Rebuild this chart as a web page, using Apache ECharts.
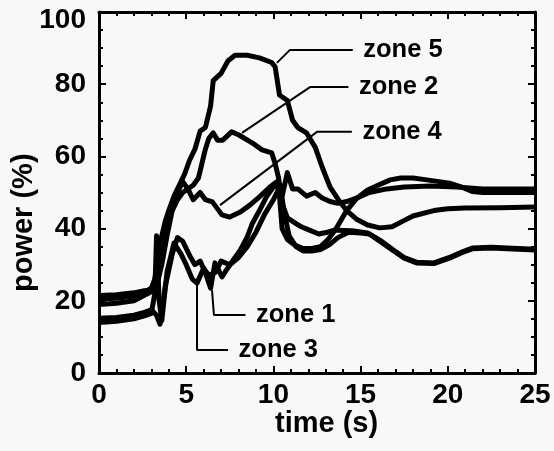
<!DOCTYPE html>
<html>
<head>
<meta charset="utf-8">
<script src="https://cdn.jsdelivr.net/npm/echarts@6/dist/echarts.min.js"></script>
<style>
  html, body { margin: 0; padding: 0; background: #f8f8f8; }
  #chart { width: 554px; height: 451px; }
</style>
</head>
<body>
<div id="chart"></div>
<script>
// Zone power traces, [time (s), power (%)]
const zone1 = [[0,15.2],[1,15.4],[2,16],[2.6,16.8],[3.0,17.5],[3.3,16],[3.5,13.5],[3.8,24],[4.2,33],[4.5,37.5],[4.8,36.5],[5.2,32.5],[5.5,30],[5.8,31],[6.1,27.7],[6.4,23.5],[6.65,30.5],[7.05,26.6],[7.3,28.5],[7.7,31.3],[8.1,34],[8.5,37.7],[8.8,41.5],[9.2,45],[9.6,48.8],[10,51.5],[10.3,52],[10.5,40],[10.8,37],[11.2,35.5],[11.7,34.5],[12.2,34.5],[12.7,35],[13.1,36.8],[13.6,40],[14.2,45],[14.8,48.5],[15.4,50.7],[16,52],[16.7,53.5],[17.3,54],[18,54],[18.8,53.5],[20.1,52.6],[20.8,51.5],[21.4,50.3],[22,50],[25,50]];
const zone2 = [[0,19],[1,19.3],[2,20],[2.6,21.5],[3.0,22.5],[3.3,24],[3.6,30],[3.9,38],[4.2,45],[4.5,48],[4.8,50],[5.1,51],[5.4,52],[5.7,54],[5.9,58],[6.1,62],[6.3,65],[6.55,66.5],[6.8,64.5],[7.1,64.5],[7.6,66.8],[8.0,66],[8.8,63.7],[9.35,61.8],[9.9,61],[10.1,58],[10.3,54],[10.5,47],[10.8,43],[11.1,42],[11.6,40.5],[12.1,39.5],[12.6,38.5],[13.1,39],[13.5,39.6],[14,39.5],[14.5,39.4],[15.4,38.8],[16.2,36.5],[16.9,34],[17.5,32],[18.2,30.7],[19.2,30.5],[20.1,32],[20.8,33.5],[21.4,34.6],[22.5,34.8],[23.4,34.6],[25,34.3]];
const zone3 = [[0,14],[1,14.3],[2,15],[2.6,15.8],[3.0,16.5],[3.2,22],[3.3,38],[3.45,20],[3.6,14.5],[3.9,28],[4.3,36],[4.7,33],[5.0,30],[5.35,26],[5.62,24.9],[6.0,29],[6.3,27],[6.7,28],[7.0,31],[7.5,30],[8,32],[8.5,35],[9,39],[9.5,44],[10,48],[10.4,52],[10.6,45],[10.9,38],[11.3,35],[11.7,33.8],[12.2,33.8],[12.7,34.2],[13.2,35.5],[13.7,37.5],[14.3,39],[15,38.8],[15.5,38.5],[16.2,36.2],[16.9,33.8],[17.5,31.8],[18.2,30.5],[19.2,30.3],[20.1,31.8],[20.8,33.3],[21.4,34.4],[22.5,34.6],[23.4,34.4],[25,34.1]];
const zone4 = [[0,20.5],[1,20.7],[2,21.3],[2.6,22.3],[3.0,23.5],[3.3,27],[3.6,34],[3.9,42],[4.2,47],[4.5,50],[4.8,53],[5.1,51],[5.4,48],[5.8,50],[6.1,48],[6.5,47.4],[7.05,43.8],[7.5,43.2],[8.1,44.6],[8.65,46.5],[9.2,48.8],[9.8,51.5],[10.2,53],[10.5,49],[10.8,55.5],[11.1,51],[11.4,51],[11.9,49],[12.4,50],[12.8,48.5],[13.25,47.5],[13.7,47],[14.2,47.5],[14.8,48.5],[15.5,50],[16.5,51],[17.5,51.5],[19,51.8],[20.5,51.5],[22,51],[25,51]];
const zone5 = [[0,21.5],[1,21.7],[2,22.2],[2.6,22.8],[3.0,23],[3.2,26],[3.4,33],[3.6,38],[3.8,42],[4.0,45],[4.3,49],[4.6,52],[4.9,55],[5.2,59],[5.5,62],[5.8,67],[6.1,68],[6.4,74],[6.55,81],[7.0,83],[7.4,86.5],[7.8,88],[8.5,88],[9.2,87.3],[9.9,86],[10.1,84.8],[10.35,77],[10.8,75.5],[11.1,70],[11.4,68],[11.9,66.5],[12.4,62.5],[12.8,57],[13.25,51.5],[13.8,47.5],[14.2,45],[14.8,42.5],[15.4,41],[16.1,40.2],[16.8,40.5],[17.4,42],[18.0,43.5],[19.2,45],[20,45.5],[21,45.7],[23,45.8],[25,46]];

// Leader lines from each zone label to its trace, [time, power]; label sits at the first point
const leaders = [
  { name: 'zone 5', path: [[14.55,89.5],[10.95,89.5],[10.2,85.9]] },
  { name: 'zone 2', path: [[14.3,79.2],[12.1,79.2],[8.2,66.5]] },
  { name: 'zone 4', path: [[14.5,66.8],[12.5,66.8],[6.94,46.5]] },
  { name: 'zone 1', path: [[8.4,16.1],[6.59,16.1],[6.48,23]] },
  { name: 'zone 3', path: [[7.4,6.4],[5.62,6.4],[5.62,24.9]] }
];

const xTicks = [0, 5, 10, 15, 20, 25];
const yTicks = [0, 20, 40, 60, 80, 100];

const FONT = 'Liberation Sans, Arial, Helvetica, sans-serif';
const INK = '#000';
const TICK_FONT = 28;

function frameAxis(pos, isX, showLabels) {
  const ax = {
    type: 'value',
    position: pos,
    min: isX ? xTicks[0] : yTicks[0],
    max: isX ? xTicks[xTicks.length - 1] : yTicks[yTicks.length - 1],
    interval: isX ? 5 : 20,
    axisLine: { show: true, onZero: false, lineStyle: { color: INK, width: 3 } },
    axisTick: { show: true, inside: true, length: 7, lineStyle: { color: INK, width: 2 } },
    minorTick: { show: true, splitNumber: isX ? 5 : 4, length: 4, lineStyle: { color: INK, width: 2 } },
    splitLine: { show: false },
    minorSplitLine: { show: false },
    axisLabel: { show: showLabels, color: INK, fontFamily: FONT, fontWeight: 'bold', fontSize: TICK_FONT, margin: isX ? 8 : 13 }
  };
  if (!isX && showLabels) {
    ax.axisLabel.formatter = v => (v === 100 ? '{top|100}' : String(v));
    ax.axisLabel.rich = { top: { color: INK, fontFamily: FONT, fontWeight: 'bold', fontSize: TICK_FONT, padding: [16, 0, 0, 0] } };
  }
  return ax;
}

const traceSeries = [zone1, zone2, zone3, zone4, zone5].map((d, i) => ({
  type: 'line',
  name: 'zone ' + (i + 1),
  data: d,
  showSymbol: false,
  symbol: 'none',
  lineStyle: { color: INK, width: 5, join: 'round' },
  silent: true,
  z: 3
}));

const labelStyle = { color: INK, fontFamily: FONT, fontWeight: 'bold', fontSize: 25.5 };

const leaderSeries = leaders.map(l => ({
  type: 'line',
  data: l.path,
  showSymbol: false,
  symbol: 'none',
  lineStyle: { color: INK, width: 2 },
  silent: true,
  z: 4,
  markPoint: {
    symbol: 'circle',
    symbolSize: 1,
    itemStyle: { color: 'rgba(0,0,0,0)' },
    label: Object.assign({ show: true, position: 'right', distance: 10, formatter: l.name }, labelStyle),
    data: [{ coord: l.path[0] }]
  }
}));

const chart = echarts.init(document.getElementById('chart'), null, { renderer: 'canvas' });
chart.setOption({
  backgroundColor: '#f8f8f8',
  animation: false,
  grid: { left: 99, right: 19, top: 12, bottom: 78, containLabel: false },
  xAxis: [frameAxis('bottom', true, true), frameAxis('top', true, false)],
  yAxis: [frameAxis('left', false, true), frameAxis('right', false, false)],
  graphic: [
    { type: 'text', left: 275, top: 409, style: { text: 'time (s)', fill: INK, font: 'bold 29px ' + FONT } },
    { type: 'text', x: 9, y: 292, rotation: Math.PI / 2, style: { text: 'power (%)', fill: INK, font: 'bold 29px ' + FONT, textVerticalAlign: 'top' } }
  ],
  series: traceSeries.concat(leaderSeries)
});
</script>
</body>
</html>
